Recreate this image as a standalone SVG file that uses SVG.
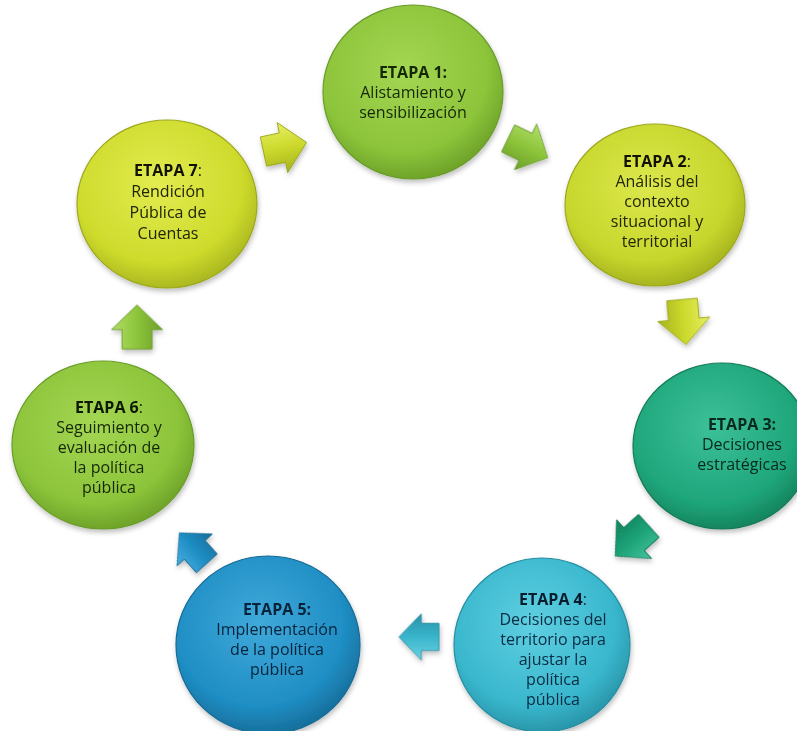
<svg xmlns="http://www.w3.org/2000/svg" width="797" height="731" viewBox="0 0 797 731">
<style>
text{font-family:"Open Sans","Liberation Sans",sans-serif;font-size:16px;text-anchor:middle}
.b{font-weight:bold}
.node ellipse{stroke-width:1.2}
.arr path{stroke-width:1}
</style>
<defs>
<filter id="sh" x="-20%" y="-20%" width="140%" height="140%"><feDropShadow dx="1" dy="3" stdDeviation="2.5" flood-color="#000" flood-opacity="0.25"/></filter>
<radialGradient id="gGreen" cx="45%" cy="38%" r="62%"><stop offset="0" stop-color="#a4d653"/><stop offset="0.75" stop-color="#8cc43a"/><stop offset="1" stop-color="#6fa42a"/></radialGradient>
<radialGradient id="gYel" cx="45%" cy="38%" r="62%"><stop offset="0" stop-color="#dce84c"/><stop offset="0.75" stop-color="#c7d62c"/><stop offset="1" stop-color="#a7b51f"/></radialGradient>
<radialGradient id="gYel7" cx="45%" cy="38%" r="62%"><stop offset="0" stop-color="#e2ec50"/><stop offset="0.75" stop-color="#cedb2c"/><stop offset="1" stop-color="#acb920"/></radialGradient>
<radialGradient id="gTeal" cx="45%" cy="38%" r="62%"><stop offset="0" stop-color="#3cc098"/><stop offset="0.75" stop-color="#1fa67b"/><stop offset="1" stop-color="#15865f"/></radialGradient>
<radialGradient id="gCyan" cx="45%" cy="38%" r="62%"><stop offset="0" stop-color="#60cfe2"/><stop offset="0.75" stop-color="#39b7cd"/><stop offset="1" stop-color="#2a97ab"/></radialGradient>
<radialGradient id="gBlue" cx="45%" cy="38%" r="62%"><stop offset="0" stop-color="#40a9da"/><stop offset="0.75" stop-color="#1f8ec4"/><stop offset="1" stop-color="#17709d"/></radialGradient>
<linearGradient id="aGreen" x1="0" y1="0" x2="0" y2="1"><stop offset="0" stop-color="#b2de6a"/><stop offset="0.5" stop-color="#8cc43a"/><stop offset="1" stop-color="#6c9f28"/></linearGradient>
<linearGradient id="aYel" x1="0" y1="0" x2="0" y2="1"><stop offset="0" stop-color="#e6ef62"/><stop offset="0.5" stop-color="#ccd92c"/><stop offset="1" stop-color="#a5b21e"/></linearGradient>
<linearGradient id="aTeal" x1="0" y1="0" x2="0" y2="1"><stop offset="0" stop-color="#45c39d"/><stop offset="0.5" stop-color="#1ca277"/><stop offset="1" stop-color="#12805c"/></linearGradient>
<linearGradient id="aCyan" x1="0" y1="0" x2="0" y2="1"><stop offset="0" stop-color="#6dd3e4"/><stop offset="0.5" stop-color="#3ab5cc"/><stop offset="1" stop-color="#2892a6"/></linearGradient>
<linearGradient id="aBlue" x1="0" y1="0" x2="0" y2="1"><stop offset="0" stop-color="#4aaee0"/><stop offset="0.5" stop-color="#1f8ec4"/><stop offset="1" stop-color="#166d99"/></linearGradient>
<path id="arrow" d="M-25,-17 L-3,-17 L-3,-29 L25,0 L-3,29 L-3,17 L-25,17 Z"/>
</defs>
<rect width="797" height="731" fill="#ffffff"/>

<g id="connectors" class="arr" filter="url(#sh)">
<g id="arrow-7-1" transform="translate(285,147) rotate(-12) scale(0.88)"><use href="#arrow" fill="url(#aYel)" stroke="#9aa61c"/></g>
<g id="arrow-1-2" transform="translate(528,148) rotate(26) scale(0.88)"><use href="#arrow" fill="url(#aGreen)" stroke="#67982a"/></g>
<g id="arrow-2-3" transform="translate(684,322) rotate(85) scale(0.9)"><use href="#arrow" fill="url(#aYel)" stroke="#9aa61c"/></g>
<g id="arrow-3-4" transform="translate(632,541) rotate(138) scale(0.9)"><use href="#arrow" fill="url(#aTeal)" stroke="#117552"/></g>
<g id="arrow-4-5" transform="translate(419,637) rotate(180) scale(0.8)"><use href="#arrow" fill="url(#aCyan)" stroke="#25889b"/></g>
<g id="arrow-5-6" transform="translate(193,548) rotate(-132) scale(0.82)"><use href="#arrow" fill="url(#aBlue)" stroke="#15658d"/></g>
<g id="arrow-6-7" transform="translate(137,327) rotate(-90) scale(0.88)"><use href="#arrow" fill="url(#aGreen)" stroke="#67982a"/></g>
</g>

<g id="node1" class="node">
<ellipse cx="413" cy="92" rx="90" ry="87" fill="url(#gGreen)" stroke="#6a9c2a" filter="url(#sh)"/>
<text x="413" y="78" fill="#152805"><tspan class="b">ETAPA 1:</tspan></text>
<text x="413" y="98" fill="#152805">Alistamiento y</text>
<text x="413" y="118" fill="#152805">sensibilización</text>
</g>

<g id="node2" class="node">
<ellipse cx="655" cy="205" rx="90" ry="81" fill="url(#gYel)" stroke="#9ca81e" filter="url(#sh)"/>
<text x="657" y="167" fill="#252605"><tspan class="b" fill="#111104">ETAPA 2</tspan>:</text>
<text x="657" y="187" fill="#252605">Análisis del</text>
<text x="657" y="207" fill="#252605">contexto</text>
<text x="657" y="227" fill="#252605">situacional y</text>
<text x="657" y="247" fill="#252605">territorial</text>
</g>

<g id="node3" class="node">
<ellipse cx="722" cy="446" rx="89" ry="83" fill="url(#gTeal)" stroke="#137a56" filter="url(#sh)"/>
<text x="742" y="430" fill="#08291d"><tspan class="b">ETAPA 3:</tspan></text>
<text x="742" y="450" fill="#08291d">Decisiones</text>
<text x="742" y="470" fill="#08291d">estratégicas</text>
</g>

<g id="node4" class="node">
<ellipse cx="542" cy="645" rx="88" ry="87" fill="url(#gCyan)" stroke="#278ea2" filter="url(#sh)"/>
<text x="553" y="605" fill="#092c43"><tspan class="b" fill="#081d2c">ETAPA 4</tspan>:</text>
<text x="553" y="625" fill="#092c43">Decisiones del</text>
<text x="553" y="645" fill="#092c43">territorio para</text>
<text x="553" y="665" fill="#092c43">ajustar la</text>
<text x="553" y="685" fill="#092c43">política</text>
<text x="553" y="705" fill="#092c43">pública</text>
</g>

<g id="node5" class="node">
<ellipse cx="268" cy="645" rx="92" ry="89" fill="url(#gBlue)" stroke="#166a94" filter="url(#sh)"/>
<text x="277" y="615" fill="#08223a"><tspan class="b">ETAPA 5:</tspan></text>
<text x="277" y="635" fill="#08223a">Implementación</text>
<text x="277" y="655" fill="#08223a">de la política</text>
<text x="277" y="675" fill="#08223a">pública</text>
</g>

<g id="node6" class="node">
<ellipse cx="103" cy="445" rx="91" ry="84" fill="url(#gGreen)" stroke="#6a9c2a" filter="url(#sh)"/>
<text x="109" y="413" fill="#152805"><tspan class="b" fill="#0c1802">ETAPA 6</tspan>:</text>
<text x="109" y="433" fill="#152805">Seguimiento y</text>
<text x="109" y="453" fill="#152805">evaluación de</text>
<text x="109" y="473" fill="#152805">la política</text>
<text x="109" y="493" fill="#152805">pública</text>
</g>

<g id="node7" class="node">
<ellipse cx="167" cy="204" rx="90" ry="84" fill="url(#gYel7)" stroke="#9ca81e" filter="url(#sh)"/>
<text x="168" y="176" fill="#232405"><tspan class="b" fill="#111104">ETAPA 7</tspan>:</text>
<text x="168" y="197" fill="#232405">Rendición</text>
<text x="168" y="218" fill="#232405">Pública de</text>
<text x="168" y="239" fill="#232405">Cuentas</text>
</g>
</svg>
